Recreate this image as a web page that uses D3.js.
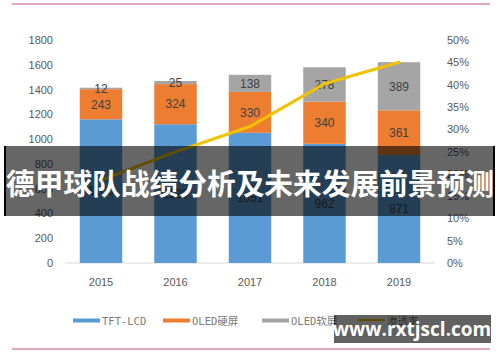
<!DOCTYPE html>
<html><head><meta charset="utf-8">
<script src="https://cdn.jsdelivr.net/npm/d3@7"></script>
<style>body{margin:0;background:#fff}svg{display:block}</style>
</head><body><svg id="c" width="500" height="362"></svg>
<script>
const years = ["2015","2016","2017","2018","2019"];
const tftLcd = [1160, 1120, 1051, 962, 871];
const oledHard = [243, 324, 330, 340, 361];
const oledSoft = [12, 25, 138, 278, 389];
const penetration = [0.186, 0.249, 0.306, 0.402, 0.450];
const seriesNames = ["TFT-LCD", "OLED硬屏", "OLED软屏"];
const lineName = "渗透率";
const leftTicks = [0,200,400,600,800,1000,1200,1400,1600,1800];
const rightTicks = [0,0.05,0.10,0.15,0.20,0.25,0.30,0.35,0.40,0.45,0.50];
const title = "德甲球队战绩分析及未来发展前景预测";
const watermark = "www.rxtjscl.com";

const colors = ["#5b9bd5", "#ed7d31", "#a5a5a5"];
const lineColor = "#f2c100";
const svg = d3.select("#c");
const numFont = "Liberation Sans, Arial, sans-serif";
const cjkFont = "Noto Sans CJK SC, sans-serif";

const x = d3.scaleBand().domain(years).range([63.75, 436.25]).paddingInner(0.43).paddingOuter(0.215);
const y = d3.scaleLinear().domain([0,1800]).range([263,40]);
const y2 = d3.scaleLinear().domain([0,0.5]).range([263,40]);

// pink frame lines
svg.append("line").attr("x1",12).attr("x2",490).attr("y1",4).attr("y2",4).attr("stroke","#d98bab").attr("stroke-width",1.5);
svg.append("line").attr("x1",12).attr("x2",490).attr("y1",349).attr("y2",349).attr("stroke","#d98bab").attr("stroke-width",1.5);

// axes
const yAxis = d3.axisLeft(y).tickValues(leftTicks).tickSize(0).tickPadding(0).tickFormat(d3.format("d"));
const gy = svg.append("g").attr("transform","translate(53,0)").call(yAxis);
gy.select(".domain").remove();
gy.selectAll("text").attr("font-family",numFont).attr("font-size",11).attr("fill","#595959");

const y2Axis = d3.axisRight(y2).tickValues(rightTicks).tickSize(0).tickPadding(0).tickFormat(d3.format(".0%"));
const gy2 = svg.append("g").attr("transform","translate(447,0)").call(y2Axis);
gy2.select(".domain").remove();
gy2.selectAll("text").attr("font-family",numFont).attr("font-size",11).attr("fill","#595959");

const xAxis = d3.axisBottom(x).tickSize(0).tickPadding(15);
const gx = svg.append("g").attr("transform","translate(0,263)").call(xAxis);
gx.select(".domain").attr("stroke","#d9d9d9").attr("d","M65,0H435");
gx.selectAll("text").attr("font-family",numFont).attr("font-size",11).attr("fill","#595959");

// stacked bars
const rows = years.map((yr,i)=>({year:yr, s0:tftLcd[i], s1:oledHard[i], s2:oledSoft[i]}));
const stack = d3.stack().keys(["s0","s1","s2"])(rows);
stack.forEach((layer,li)=>{
  const g = svg.append("g");
  g.selectAll("rect").data(layer).join("rect")
    .attr("x",d=>x(d.data.year)).attr("width",x.bandwidth())
    .attr("y",d=>y(d[1])).attr("height",d=>y(d[0])-y(d[1]))
    .attr("fill",colors[li]);
});
stack.forEach((layer,li)=>{
  svg.append("g").selectAll("text").data(layer).join("text")
    .attr("x",d=>x(d.data.year)+x.bandwidth()/2)
    .attr("y",d=>(y(d[0])+y(d[1]))/2)
    .attr("dy","0.36em").attr("text-anchor","middle")
    .attr("font-family",numFont).attr("font-size",12).attr("fill","#404040")
    .text(d=>d[1]-d[0]);
});

// line
const line = d3.line().x((d,i)=>x(years[i])+x.bandwidth()/2).y(d=>y2(d));
svg.append("path").datum(penetration).attr("d",line).attr("fill","none")
  .attr("stroke",lineColor).attr("stroke-width",3).attr("stroke-linecap","round");

// legend
const legendItems = [
  {name:seriesNames[0], color:colors[0], x:73},
  {name:seriesNames[1], color:colors[1], x:163},
  {name:seriesNames[2], color:colors[2], x:262},
  {name:lineName, color:lineColor, x:358}
];
const lg = svg.append("g");
legendItems.forEach((it,i)=>{
  lg.append("rect").attr("x",it.x).attr("y", i===3?319:318.5).attr("width",27).attr("height", i===3?2:4).attr("fill",it.color);
  lg.append("text").attr("x",it.x+29).attr("y",325).attr("font-family", "DejaVu Sans Mono, "+cjkFont)
    .attr("font-size",10.5).attr("fill","#7a7a7a").text(it.name);
});

// banner overlay
svg.append("rect").attr("x",4).attr("y",146).attr("width",491).attr("height",70).attr("fill","rgba(0,0,0,0.6)");
svg.append("rect").attr("x",4).attr("y",146).attr("width",2).attr("height",70).attr("fill","#000");
svg.append("rect").attr("x",493).attr("y",146).attr("width",2).attr("height",70).attr("fill","#000");
svg.append("text").attr("x",250).attr("y",195).attr("text-anchor","middle")
  .attr("font-family",cjkFont).attr("font-weight","bold").attr("font-size",29)
  .attr("textLength",488).attr("lengthAdjust","spacingAndGlyphs")
  .attr("fill","#fff").text(title);

// watermark
svg.append("rect").attr("x",334).attr("y",315).attr("width",157).attr("height",28).attr("fill","rgba(0,0,0,0.62)");
svg.append("text").attr("x",412).attr("y",336).attr("text-anchor","middle")
  .attr("font-family","Open Sans, Noto Sans, sans-serif").attr("font-weight","bold").attr("font-size",19)
  .attr("fill","#fff").text(watermark);
</script></body></html>
